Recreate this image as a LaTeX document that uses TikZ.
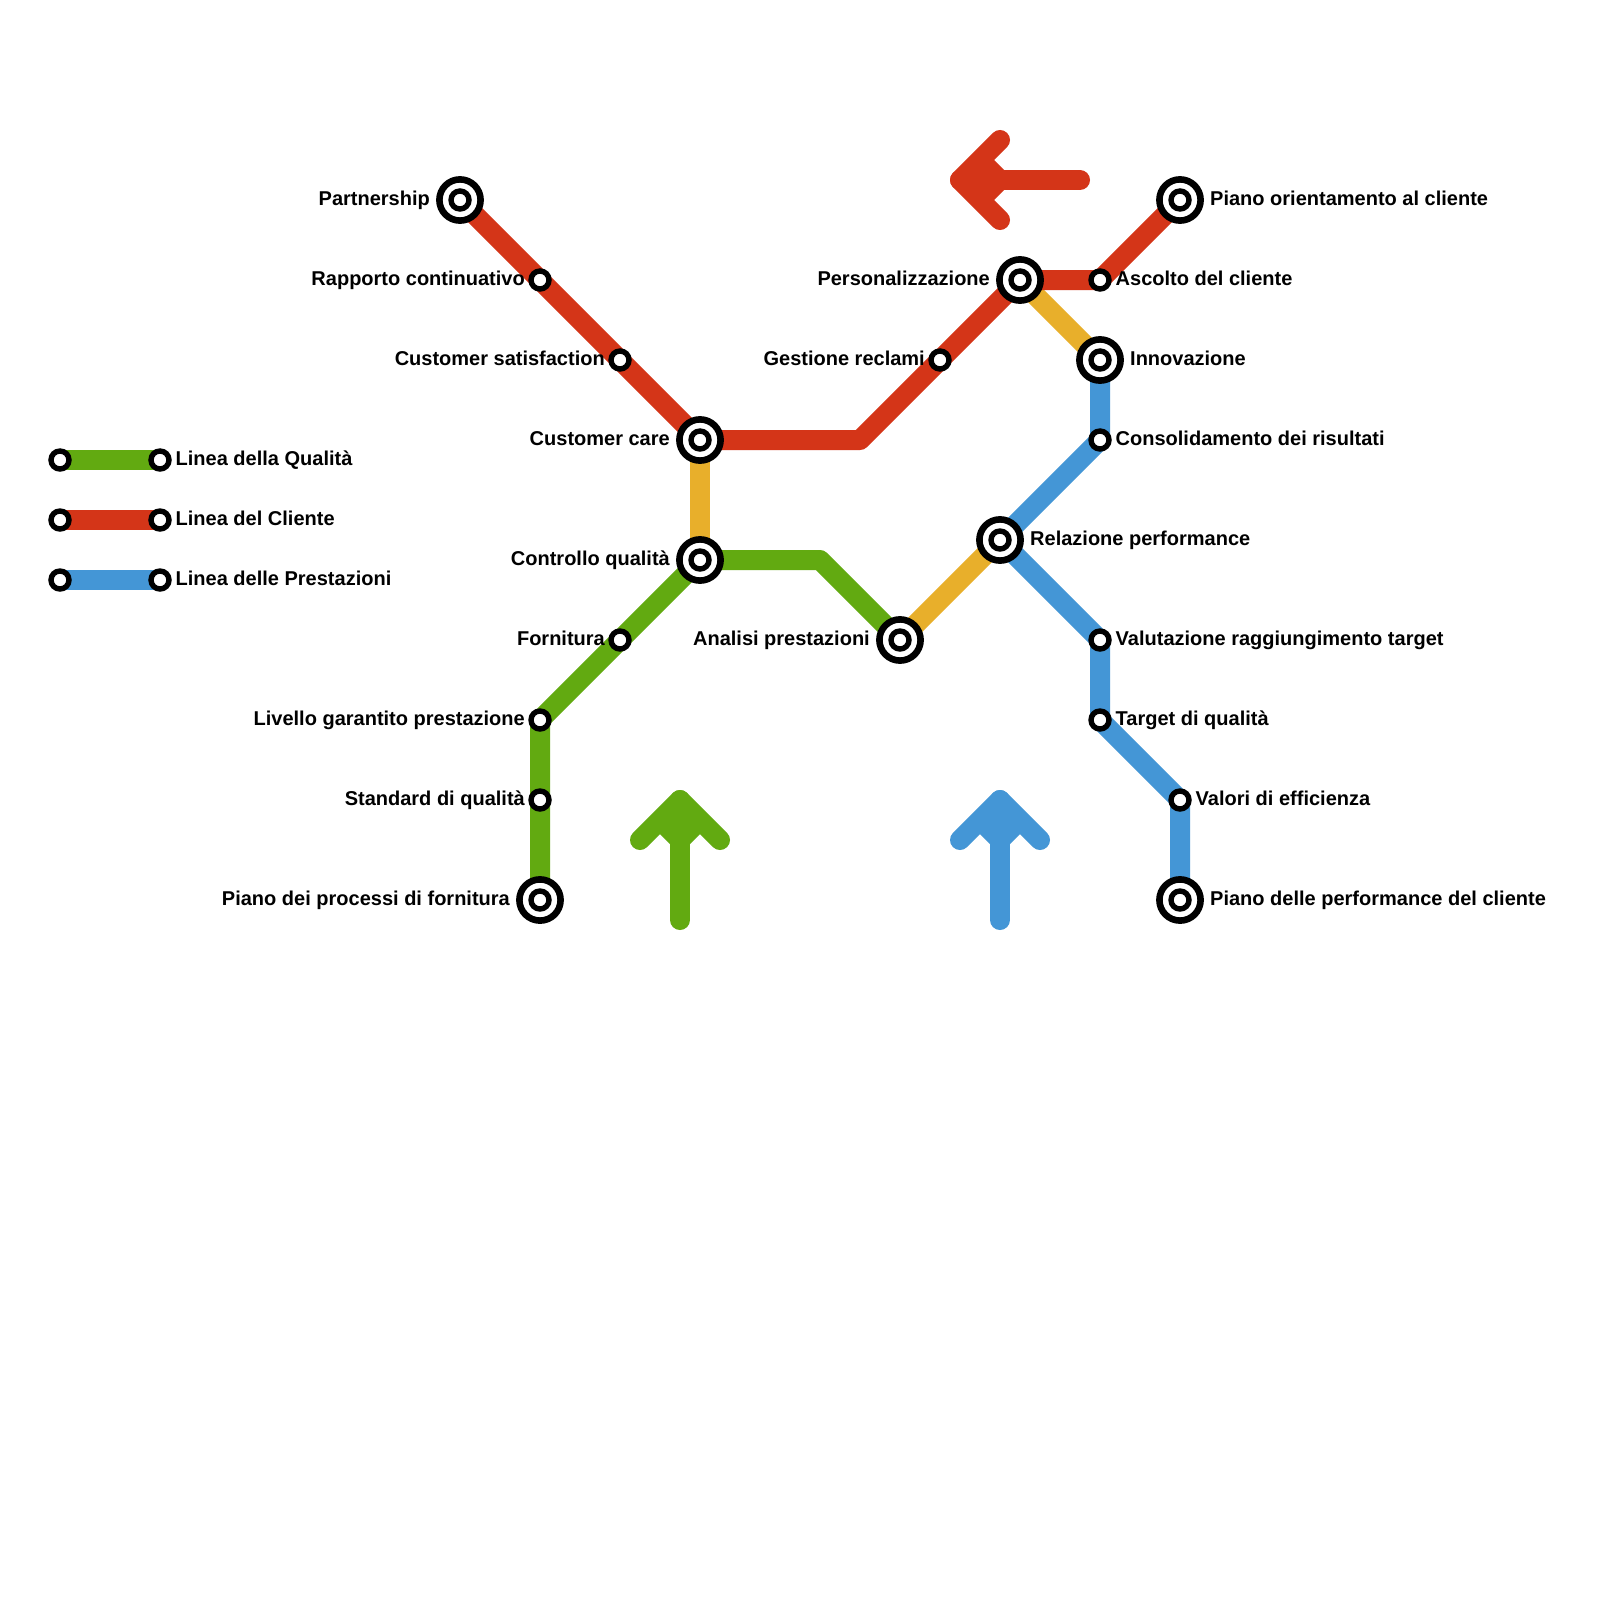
\documentclass[tikz,border=0pt]{standalone}
\usepackage{fontspec}
\setmainfont{Liberation Sans}
\pgfdeclarelayer{bg}
\pgfsetlayers{bg,main}
\definecolor{cgreen}{HTML}{62AA11}
\definecolor{cred}{HTML}{D43518}
\definecolor{cblue}{HTML}{4496D6}
\definecolor{cyellow}{HTML}{E8AF2B}
\tikzset{
  metro/.style={line width=20pt,line join=round,line cap=round},
  flat/.style={line width=20pt,line join=round,line cap=butt},
  chevron/.style={line width=20pt,line join=miter,line cap=butt},
  smallstn/.style={circle,draw=black,fill=white,line width=5.4pt,minimum size=18pt,inner sep=0pt,outer sep=0pt},
  bigstn/.style={circle,draw=black,fill=white,line width=6.6pt,minimum size=41.2pt,inner sep=0pt,outer sep=0pt},
  rlabel/.style={anchor=base west,font=\bfseries\fontsize{20}{24}\selectfont,inner sep=0pt,text=black},
  llabel/.style={anchor=base east,font=\bfseries\fontsize{20}{24}\selectfont,inner sep=0pt,text=black}
}
\newcommand{\SmallR}[3]{\node[smallstn] (#1) at (#2) {};\node[rlabel] (#1t) at ([xshift=15.5pt,yshift=-5pt]#1.center) {#3};}
\newcommand{\SmallL}[3]{\node[smallstn] (#1) at (#2) {};\node[llabel] (#1t) at ([xshift=-15pt,yshift=-5pt]#1.center) {#3};}
\newcommand{\BigR}[3]{\node[bigstn] (#1) at (#2) {};\node[smallstn] (#1i) at (#1.center) {};\node[rlabel] (#1t) at ([xshift=30pt,yshift=-5pt]#1.center) {#3};}
\newcommand{\BigL}[3]{\node[bigstn] (#1) at (#2) {};\node[smallstn] (#1i) at (#1.center) {};\node[llabel] (#1t) at ([xshift=-30pt,yshift=-5pt]#1.center) {#3};}
\begin{document}
\begin{tikzpicture}[x=1pt,y=-1pt]
\begin{pgfonlayer}{bg}
\path[fill=white] (0,0) rectangle (1600,1600);
\end{pgfonlayer}
\useasboundingbox (0,0) rectangle (1600,1600);
% legend
\node[smallstn] (g0) at (60,460) {};
\SmallR{g1}{160,460}{Linea della Qualità}
\node[smallstn] (r0) at (60,520) {};
\SmallR{r1}{160,520}{Linea del Cliente}
\node[smallstn] (b0) at (60,580) {};
\SmallR{b1}{160,580}{Linea delle Prestazioni}
% stations
\BigL{partner}{460,200}{Partnership}
\SmallL{rapporto}{540,280}{Rapporto continuativo}
\SmallL{satisf}{620,360}{Customer satisfaction}
\BigL{care}{700,440}{Customer care}
\BigL{controllo}{700,560}{Controllo qualità}
\SmallL{fornitura}{620,640}{Fornitura}
\SmallL{livello}{540,720}{Livello garantito prestazione}
\SmallL{standard}{540,800}{Standard di qualità}
\BigL{pianof}{540,900}{Piano dei processi di fornitura}
\BigL{analisi}{900,640}{Analisi prestazioni}
\SmallL{gestione}{940,360}{Gestione reclami}
\BigL{person}{1020,280}{Personalizzazione}
\SmallR{ascolto}{1100,280}{Ascolto del cliente}
\BigR{pianoc}{1180,200}{Piano orientamento al cliente}
\BigR{innov}{1100,360}{Innovazione}
\SmallR{consol}{1100,440}{Consolidamento dei risultati}
\BigR{relaz}{1000,540}{Relazione performance}
\SmallR{valut}{1100,640}{Valutazione raggiungimento target}
\SmallR{target}{1100,720}{Target di qualità}
\SmallR{valori}{1180,800}{Valori di efficienza}
\BigR{pianop}{1180,900}{Piano delle performance del cliente}
% bends and free ends
\coordinate (redbend) at (860,440);
\coordinate (greenbend) at (820,560);
\coordinate (ra0) at (1080,180);
\coordinate (ra1) at (960,180);
\coordinate (ra2) at (1000,140);
\coordinate (ra3) at (1000,220);
\coordinate (ra4) at (980,160);
\coordinate (ra5) at (1000,180);
\coordinate (ra6) at (980,200);
\coordinate (ga0) at (680,920);
\coordinate (ga1) at (680,800);
\coordinate (ga2) at (640,840);
\coordinate (ga3) at (720,840);
\coordinate (ga4) at (660,820);
\coordinate (ga5) at (680,840);
\coordinate (ga6) at (700,820);
\coordinate (ba0) at (1000,920);
\coordinate (ba1) at (1000,800);
\coordinate (ba2) at (960,840);
\coordinate (ba3) at (1040,840);
\coordinate (ba4) at (980,820);
\coordinate (ba5) at (1000,840);
\coordinate (ba6) at (1020,820);
\begin{pgfonlayer}{bg}
\draw[flat,cyellow] (care.center) -- (controllo.center);
\draw[flat,cyellow] (analisi.center) -- (relaz.center);
\draw[flat,cyellow] (person.center) -- (innov.center);
\draw[flat,cred] (partner.center) -- (rapporto.center) -- (satisf.center) -- (care.center) -- (redbend) -- (gestione.center) -- (person.center) -- (ascolto.center) -- (pianoc.center);
\draw[flat,cgreen] (pianof.center) -- (standard.center) -- (livello.center) -- (fornitura.center) -- (controllo.center) -- (greenbend) -- (analisi.center);
\draw[flat,cblue] (innov.center) -- (consol.center) -- (relaz.center) -- (valut.center) -- (target.center) -- (valori.center) -- (pianop.center);
\draw[flat,cgreen] (g0.center) -- (g1.center);
\draw[flat,cred] (r0.center) -- (r1.center);
\draw[flat,cblue] (b0.center) -- (b1.center);
\draw[metro,cred] (ra0) -- (ra1);
\draw[metro,cred] (ra2) -- (ra1) -- (ra3);
\draw[chevron,cred] (ra4) -- (ra5) -- (ra6);
\draw[metro,cgreen] (ga0) -- (ga1);
\draw[metro,cgreen] (ga2) -- (ga1) -- (ga3);
\draw[chevron,cgreen] (ga4) -- (ga5) -- (ga6);
\draw[metro,cblue] (ba0) -- (ba1);
\draw[metro,cblue] (ba2) -- (ba1) -- (ba3);
\draw[chevron,cblue] (ba4) -- (ba5) -- (ba6);
\end{pgfonlayer}
\end{tikzpicture}
\end{document}
